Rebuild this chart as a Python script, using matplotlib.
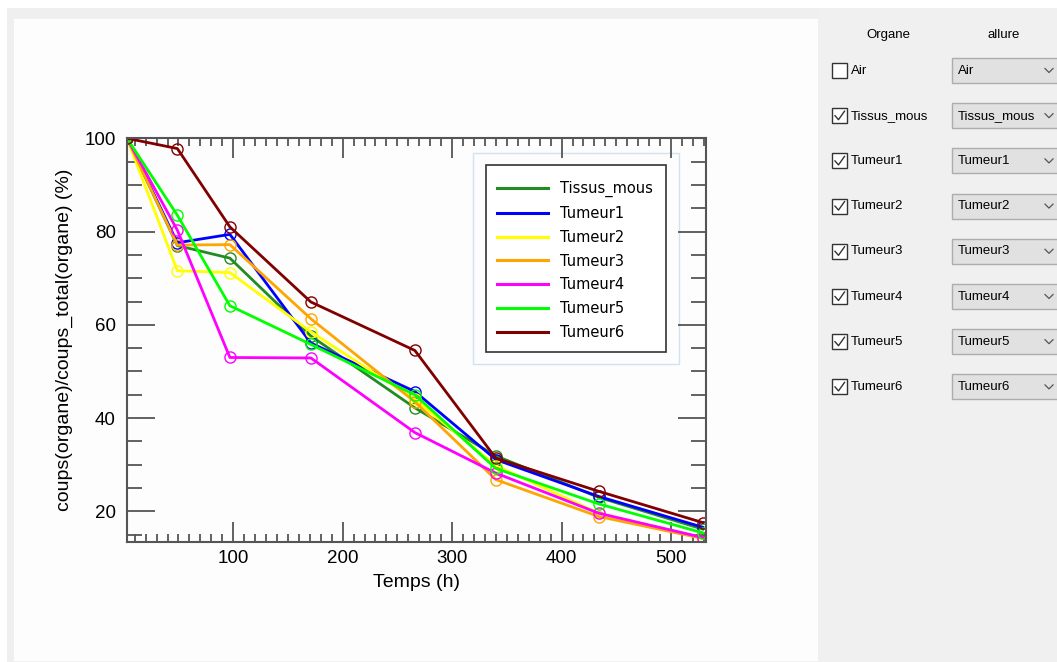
import matplotlib.pyplot as plt
from matplotlib.patches import Rectangle
from matplotlib.lines import Line2D
from matplotlib.ticker import MultipleLocator

# data
hours = [3, 49, 97, 171, 266, 340, 434, 529]
tissus_mous = [100, 77.0, 74.3, 57.6, 42.2, 31.9, 23.0, 16.2]
tumeur1 = [100, 77.6, 79.4, 56.1, 45.7, 31.1, 23.2, 16.6]
tumeur2 = [100, 71.6, 71.2, 58.5, 44.0, 29.8, 19.6, 14.3]
tumeur3 = [100, 77.1, 77.2, 61.3, 43.5, 26.8, 18.9, 14.2]
tumeur4 = [100, 80.3, 53.0, 52.9, 36.9, 28.2, 19.6, 14.4]
tumeur5 = [100, 83.5, 64.1, 55.8, 45.0, 29.2, 21.6, 15.4]
tumeur6 = [100, 97.8, 81.0, 64.9, 54.5, 31.4, 24.3, 17.6]

series_names = ['Tissus_mous', 'Tumeur1', 'Tumeur2', 'Tumeur3',
                'Tumeur4', 'Tumeur5', 'Tumeur6']
series_values = [tissus_mous, tumeur1, tumeur2, tumeur3, tumeur4, tumeur5, tumeur6]
series_colors = ['forestgreen', '#0000ff', '#ffff00', '#ffa500',
                 '#ff00ff', '#00ff00', '#800000']

# side panel (organe / allure)
organes = ['Air', 'Tissus_mous', 'Tumeur1', 'Tumeur2', 'Tumeur3',
           'Tumeur4', 'Tumeur5', 'Tumeur6']
coches = [False, True, True, True, True, True, True, True]

W, H = 1057, 662
fig = plt.figure(figsize=(W / 100, H / 100), dpi=100)
fig.patch.set_facecolor('white')

# background layer in pixel coordinates
bg = fig.add_axes([0, 0, 1, 1], zorder=0)
bg.set_xlim(0, W)
bg.set_ylim(H, 0)
bg.axis('off')
bg.add_patch(Rectangle((7, 8), W - 7, H - 8, fc='#efefef', ec='none'))
bg.add_patch(Rectangle((14, 19), 804, 642, fc='#fdfdfd', ec='none'))
bg.add_patch(Rectangle((818, 8), W - 818, H - 8, fc='#f0f0f0', ec='none'))

# legend frames
bg.add_patch(Rectangle((473, 153), 206, 211, fc='none', ec='#cfe3f5', lw=1))
bg.add_patch(Rectangle((486, 165), 180, 187, fc='white', ec='#333333', lw=1.2))

panel_font = {'family': 'Liberation Sans', 'size': 9.5}
bg.text(888, 35, 'Organe', ha='center', va='center', **panel_font)
bg.text(1004, 35, 'allure', ha='center', va='center', **panel_font)
for i, (nom, coche) in enumerate(zip(organes, coches)):
    y = 70.5 + i * 45.2
    bg.add_patch(Rectangle((832, y - 7.5), 15, 15, fc='white', ec='#333333', lw=1))
    if coche:
        bg.plot([835, 838.5, 844.5], [y, y + 4, y - 4.5], color='#333333', lw=1)
    bg.text(851, y, nom, ha='left', va='center', **panel_font)
    bg.add_patch(Rectangle((952, y - 12.5), 130, 25, fc='#e1e1e1', ec='#adadad', lw=1))
    bg.text(958, y, nom, ha='left', va='center', **panel_font)
    bg.plot([1045, 1049, 1053], [y - 2, y + 2, y - 2], color='#555555', lw=0.9)

# main plot
ax = fig.add_axes([127 / W, 1 - 541.7 / H, (705.5 - 127) / W, (541.7 - 138.3) / H],
                  zorder=2)
ax.set_facecolor('none')
for vals, col in zip(series_values, series_colors):
    ax.plot(hours, vals, color=col, lw=2, marker='o', mfc='none', mec=col,
            ms=8, mew=1)

ax.set_xlim(3, 531.5)
ax.set_ylim(13.5, 100)
ax.set_xticks([100, 200, 300, 400, 500])
ax.set_yticks([20, 40, 60, 80, 100])
ax.xaxis.set_minor_locator(MultipleLocator(10))
ax.yaxis.set_minor_locator(MultipleLocator(5))
ax.tick_params(which='both', direction='in', top=True, right=True,
               color='#555555', width=1.3, labelcolor='black')
ax.tick_params(axis='x', which='major', length=14.4, pad=6)
ax.tick_params(axis='x', which='minor', length=5.8)
ax.tick_params(axis='y', which='major', length=20, pad=8)
ax.tick_params(axis='y', which='minor', length=10.8)
for lab in ax.get_xticklabels() + ax.get_yticklabels():
    lab.set_fontfamily('Liberation Sans')
    lab.set_fontsize(13.5)
for sp in ax.spines.values():
    sp.set_color('#555555')
    sp.set_linewidth(1.5)

ax.set_xlabel('Temps (h)', fontfamily='Liberation Sans', fontsize=14, labelpad=5)
ax.set_ylabel('coups(organe)/coups_total(organe) (%)', fontfamily='Liberation Sans',
              fontsize=14, labelpad=8)

handles = [Line2D([], [], color=c, lw=2.2) for c in series_colors]
fig.legend(handles, series_names, loc='center left',
           bbox_to_anchor=(497 / W, 1 - 260.4 / H), frameon=False, borderpad=0,
           borderaxespad=0, handlelength=3.5, handletextpad=0.82, labelspacing=0.6,
           prop={'family': 'DejaVu Sans', 'size': 10.5})

fig.savefig('out.png', dpi=100)
